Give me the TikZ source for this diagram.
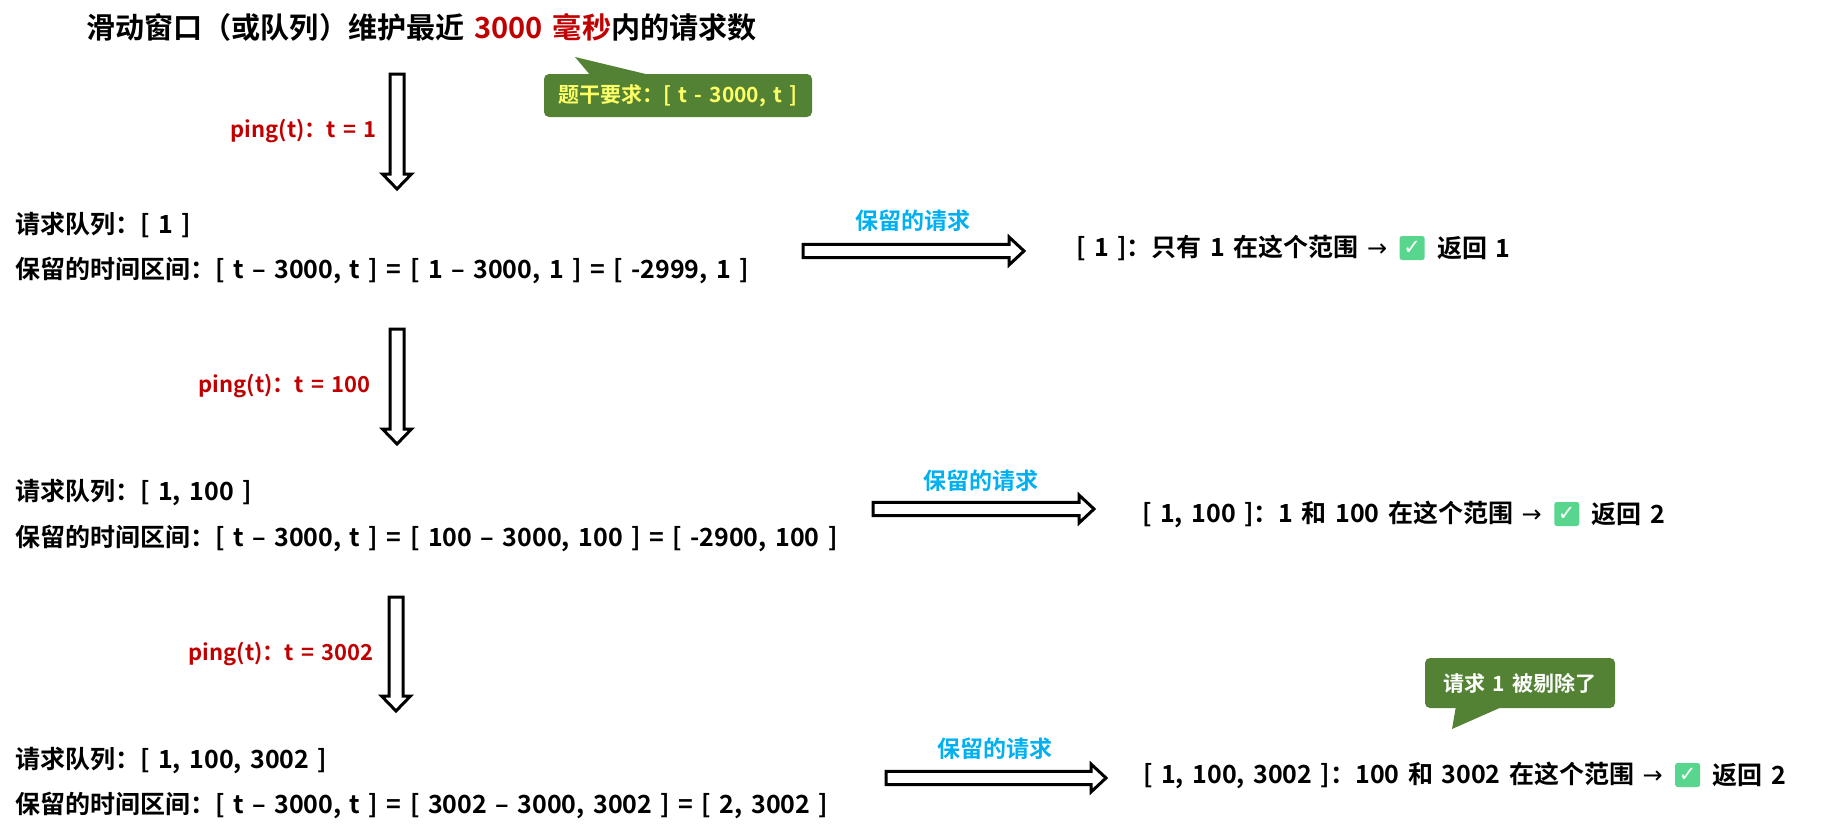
\documentclass[tikz,border=0pt]{standalone}
\usepackage{fontspec}
\setmainfont{Noto Sans CJK SC}[BoldFont={Noto Sans CJK SC Bold}]
\newfontfamily\symfont{DejaVu Sans}
\usetikzlibrary{positioning,calc}
\definecolor{pingred}{RGB}{192,0,0}
\definecolor{keepblue}{RGB}{0,176,240}
\definecolor{notegreen}{RGB}{84,130,53}
\definecolor{notetext}{RGB}{255,255,102}
\definecolor{checkgreen}{RGB}{88,214,141}
\newcommand{\sizedbold}[1]{\fontsize{#1}{#1}\selectfont\bfseries\spaceskip=0.34em\relax}
\tikzset{
  txt/.style={inner sep=0pt,anchor=west,font=\sizedbold{25}},
  titletxt/.style={txt,font=\sizedbold{29.1}},
  pinglabel/.style={inner sep=0pt,anchor=east,text=pingred,font=\sizedbold{22}},
  keeplabel/.style={inner sep=0pt,text=keepblue,font=\sizedbold{23}},
  notebox/.style={fill=notegreen,rounded corners=5pt,inner sep=0pt,font=\sizedbold{21}},
  checkbox/.style={fill=checkgreen,rounded corners=2.5pt,minimum width=25pt,minimum height=24pt,inner sep=0pt,text=white,font=\symfont\fontsize{21}{21}\selectfont\bfseries},
  downblock/.style={draw,line width=3pt,miter limit=10,to path={let \p1=(\tikztostart),\p2=(\tikztotarget) in
    (\x1-7pt,\y1) -- (\x1-7pt,\y2+15pt) -- (\x1-14.5pt,\y2+15pt) -- (\x2,\y2) -- (\x1+14.5pt,\y2+15pt) -- (\x1+7pt,\y2+15pt) -- (\x1+7pt,\y1) -- cycle}},
  rightblock/.style={draw,line width=3pt,miter limit=10,to path={let \p1=(\tikztostart),\p2=(\tikztotarget) in
    (\x1,\y1+6.6pt) -- (\x2-15pt,\y1+6.6pt) -- (\x2-15pt,\y1+14pt) -- (\x2,\y2) -- (\x2-15pt,\y1-14pt) -- (\x2-15pt,\y1-6.6pt) -- (\x1,\y1-6.6pt) -- cycle}}
}
\newcommand{\toarrow}{{\symfont\mdseries\fontsize{24}{24}\selectfont →}}
\begin{document}
\begin{tikzpicture}[x=1pt,y=-1pt]
\useasboundingbox (0,0) rectangle (1825,835);
% title and first note
\node [titletxt] (title) at (86,27) {滑动窗口（或队列）维护最近 \textcolor{pingred}{3000 毫秒}内的请求数};
\node [notebox,minimum width=268pt,minimum height=43pt,text=notetext] (note1) at (678,95.5) {题干要求：[ t - 3000, t ]};
\coordinate (note1tip) at (575,57);
\fill [notegreen] (note1tip) -- (591,76) -- (654,76) -- cycle;
% first request
\coordinate (ping1from) at (397,74);
\coordinate (ping1to) at (397,189);
\draw [downblock] (ping1from) to (ping1to);
\node [pinglabel] (ping1) at (377,131) {ping(t)：t = 1};
\node [txt] (queue1) at (15,225) {请求队列：[ 1 ]};
\node [txt] (range1) at (15,270) {保留的时间区间：[ t – 3000, t ] = [ 1 – 3000, 1 ] = [ -2999, 1 ]};
\coordinate (keep1from) at (803,251);
\coordinate (keep1to) at (1024,251);
\draw [rightblock] (keep1from) to (keep1to);
\node [keeplabel] (keep1) at (913,221) {保留的请求};
\node [txt] (result1) at (1076,248) {[ 1 ]：只有 1 在这个范围 \toarrow};
\node [checkbox,right=12pt of result1] (check1) {✓};
\node [txt,right=12pt of check1] (ret1) {返回 1};
% second request
\coordinate (ping2from) at (397,329);
\coordinate (ping2to) at (397,444);
\draw [downblock] (ping2from) to (ping2to);
\node [pinglabel] (ping2) at (371,386) {ping(t)：t = 100};
\node [txt] (queue2) at (15,493) {请求队列：[ 1, 100 ]};
\node [txt] (range2) at (15,538) {保留的时间区间：[ t – 3000, t ] = [ 100 – 3000, 100 ] = [ -2900, 100 ]};
\coordinate (keep2from) at (873,509);
\coordinate (keep2to) at (1094,509);
\draw [rightblock] (keep2from) to (keep2to);
\node [keeplabel] (keep2) at (980.5,481) {保留的请求};
\node [txt] (result2) at (1142,514) {[ 1, 100 ]：1 和 100 在这个范围 \toarrow};
\node [checkbox,right=12pt of result2] (check2) {✓};
\node [txt,right=12pt of check2] (ret2) {返回 2};
% third request
\coordinate (ping3from) at (396,597);
\coordinate (ping3to) at (396,711);
\draw [downblock] (ping3from) to (ping3to);
\node [pinglabel] (ping3) at (374,654) {ping(t)：t = 3002};
\node [txt] (queue3) at (15,761) {请求队列：[ 1, 100, 3002 ]};
\node [txt] (range3) at (15,805) {保留的时间区间：[ t – 3000, t ] = [ 3002 – 3000, 3002 ] = [ 2, 3002 ]};
\coordinate (keep3from) at (886,778);
\coordinate (keep3to) at (1106,778);
\draw [rightblock] (keep3from) to (keep3to);
\node [keeplabel] (keep3) at (995,749) {保留的请求};
\node [txt] (result3) at (1143,775) {[ 1, 100, 3002 ]：100 和 3002 在这个范围 \toarrow};
\node [checkbox,right=12pt of result3] (check3) {✓};
\node [txt,right=12pt of check3] (ret3) {返回 2};
% second note
\node [notebox,minimum width=190pt,minimum height=50pt,text=white] (note2) at (1520,683) {请求 1 被剔除了};
\coordinate (note2tip) at (1452,729);
\fill [notegreen] (note2tip) -- (1456,706) -- (1504,706) -- cycle;
\end{tikzpicture}
\end{document}
